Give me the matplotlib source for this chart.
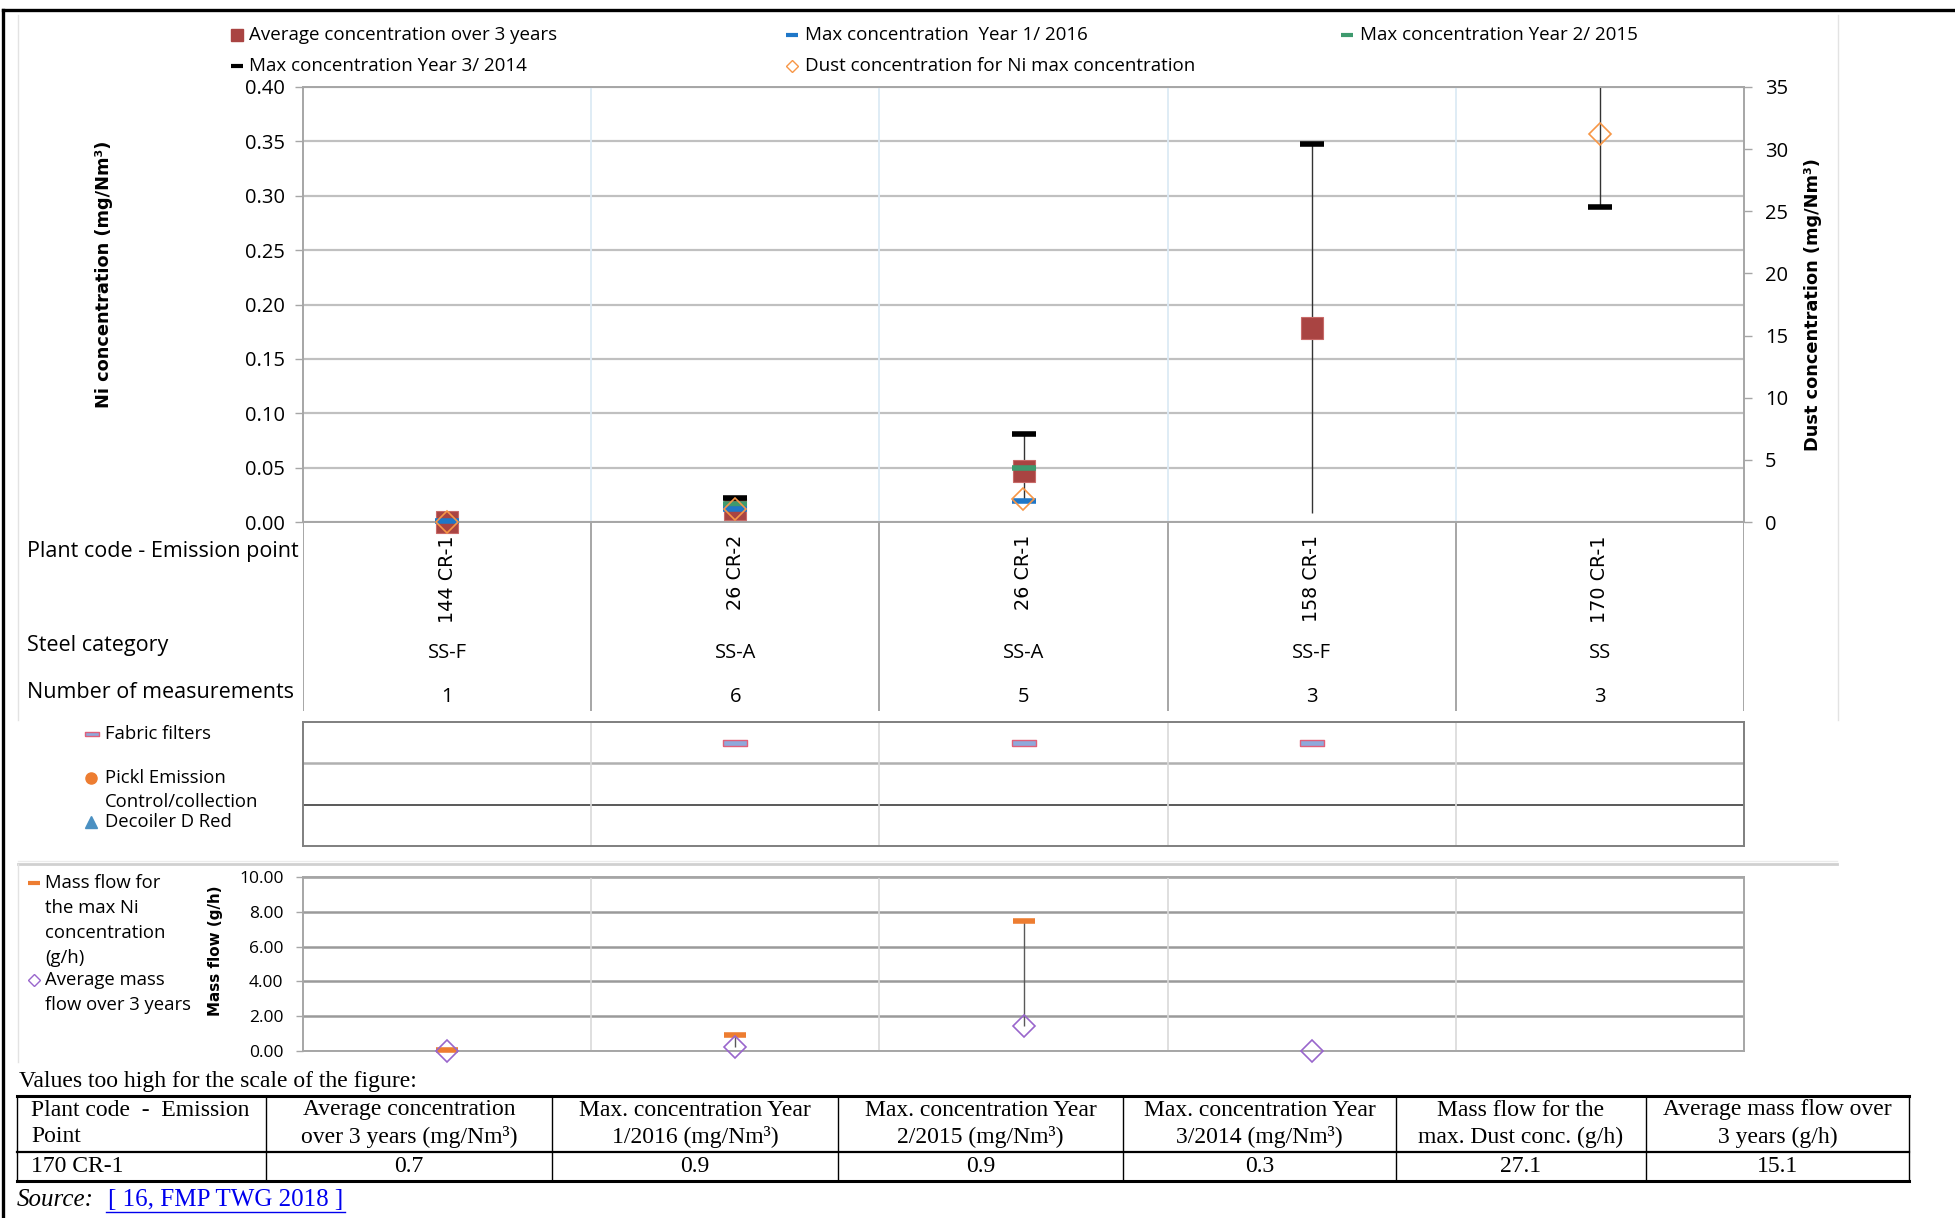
import numpy as np
import matplotlib
matplotlib.use("Agg")
import matplotlib.pyplot as plt
from matplotlib.ticker import FormatStrFormatter

W, H = 1955, 1218
nan = np.nan

# categories
plants = ["144 CR-1", "26 CR-2", "26 CR-1", "158 CR-1", "170 CR-1"]
steel = ["SS-F", "SS-A", "SS-A", "SS-F", "SS"]
n_meas = [1, 6, 5, 3, 3]

# Ni concentration (mg/Nm3)
avg_conc = [0.0, 0.012, 0.047, 0.178, 0.7]
max_2016 = [0.001, 0.012, 0.019, nan, 0.9]
max_2015 = [nan, 0.017, 0.050, nan, 0.9]
max_2014 = [nan, 0.022, 0.081, 0.348, 0.29]
range_low = [0.0, 0.012, 0.019, 0.008, 0.29]
# dust concentration (mg/Nm3)
dust = [0.0, 1.05, 1.85, nan, 31.2]

# techniques
techniques = ["Fabric filters", "Pickl Emission\nControl/collection", "Decoiler D Red"]
fabric = [0, 1, 1, 1, 0]

# mass flow (g/h)
mass_max = [0.05, 0.9, 7.5, nan, 27.1]
mass_avg = [0.0, 0.25, 1.45, 0.0, 15.1]

# table of off-scale values
tbl_head = ["Plant code - Emission\nPoint", "Average concentration\nover 3 years (mg/Nm³)",
            "Max. concentration Year\n1/2016 (mg/Nm³)", "Max. concentration Year\n2/2015 (mg/Nm³)",
            "Max. concentration Year\n3/2014 (mg/Nm³)", "Mass flow for the\nmax. Dust conc. (g/h)",
            "Average mass flow over\n3 years (g/h)"]
tbl_row = ["170 CR-1", "0.7", "0.9", "0.9", "0.3", "27.1", "15.1"]

C_AVG = "#A94442"
C_Y1 = "#1F77C8"
C_Y2 = "#3E9A6E"
C_Y3 = "#000000"
C_DUST = "#F79646"
C_MMAX = "#ED7D31"
C_MAVG = "#9966CC"
SANS = "Open Sans"
BOLD = "DejaVu Sans"
SERIF = "Liberation Serif"
TFS = 17  # table font size


def box(l, t, r, b):
    return [l / W, 1 - b / H, (r - l) / W, (b - t) / H]


def upto(vals, top):
    v = np.array(vals, dtype=float)
    v[v > top] = nan
    return v


x = np.arange(len(plants))
bounds = np.arange(-0.5, len(plants))

fig = plt.figure(figsize=(W / 100, H / 100), dpi=100)

# overlay for frame, labels and table
deco = fig.add_axes([0, 0, 1, 1])
deco.set_xlim(0, W)
deco.set_ylim(H, 0)
deco.axis("off")

# ---------- main chart ----------
ax = fig.add_axes(box(303, 87, 1744, 522))
ax.set_xlim(-0.5, 4.5)
ax.set_ylim(0, 0.40)
ax.set_yticks(np.arange(0, 0.401, 0.05))
ax.yaxis.set_major_formatter(FormatStrFormatter("%.2f"))
ax.yaxis.grid(True, color="#C0C0C0", lw=1.6)
ax.set_axisbelow(True)
ax.vlines(bounds[1:-1], 0, 0.40, color="#DCEAF5", lw=1.3, zorder=1)
ax.set_xticks([])
for s in ["left", "top", "bottom"]:
    ax.spines[s].set_color("#A6A6A6")
    ax.spines[s].set_linewidth(1.4)
ax.spines["right"].set_visible(False)
ax.tick_params(axis="y", length=6, width=1, color="#A6A6A6", pad=7, labelsize=14.5)
for t in ax.get_yticklabels():
    t.set_fontfamily(SANS)

high = np.nanmax(np.vstack([max_2016, max_2015, max_2014]), axis=0)
ax.vlines(x, range_low, high, color="#333333", lw=1.0, zorder=2)
ax.plot(x, upto(avg_conc, 0.4), "s", ms=15.5, mfc=C_AVG, mec="#C86A68", mew=0.8,
        ls="none", clip_on=False, zorder=3)
ax.plot(x, upto(max_2014, 0.4), "_", ms=17, mew=4, color=C_Y3, ls="none", clip_on=False, zorder=4)
ax.plot(x, upto(max_2015, 0.4), "_", ms=17, mew=4, color=C_Y2, ls="none", clip_on=False, zorder=5)
ax.plot(x, upto(max_2016, 0.4), "_", ms=17, mew=4, color=C_Y1, ls="none", clip_on=False, zorder=6)

ax2 = ax.twinx()
ax2.set_ylim(0, 35)
ax2.set_yticks(np.arange(0, 36, 5))
for s in ["left", "top", "bottom"]:
    ax2.spines[s].set_visible(False)
ax2.spines["right"].set_color("#A6A6A6")
ax2.spines["right"].set_linewidth(1.4)
ax2.tick_params(axis="y", length=6, width=1, color="#A6A6A6", pad=9, labelsize=14.5)
for t in ax2.get_yticklabels():
    t.set_fontfamily(SANS)
ax2.plot(x, upto(dust, 35), "D", ms=11, mfc="none", mec=C_DUST, mew=1.2, ls="none",
         clip_on=False, zorder=5)

deco.text(104, 274, "Ni concentration (mg/Nm³)", rotation=90, ha="center", va="center",
          fontsize=12.8, fontweight="bold", fontfamily=BOLD)
deco.text(1813, 305, "Dust concentration (mg/Nm³)", rotation=90, ha="center", va="center",
          fontsize=12.8, fontweight="bold", fontfamily=BOLD)

# legend at top
def leg_mark(px, py, **kw):
    deco.plot([px], [py], ls="none", clip_on=False, **kw)

leg_mark(237, 35, marker="s", ms=8.5, mfc=C_AVG, mec=C_AVG)
leg_mark(792, 35, marker="_", ms=8, mew=3, color=C_Y1)
leg_mark(1347, 35, marker="_", ms=8, mew=3, color=C_Y2)
leg_mark(237, 66, marker="_", ms=8, mew=3, color=C_Y3)
leg_mark(792, 66, marker="D", ms=6, mfc="none", mec=C_DUST, mew=1)
leg_txt = [(249, 35, "Average concentration over 3 years"),
           (805, 35, "Max concentration  Year 1/ 2016"),
           (1360, 35, "Max concentration Year 2/ 2015"),
           (249, 66, "Max concentration Year 3/ 2014"),
           (805, 66, "Dust concentration for Ni max concentration")]
for lx, ly, s in leg_txt:
    deco.text(lx, ly, s, ha="left", va="center", fontsize=13.5, fontfamily=SANS)

# ---------- category strip ----------
axc = fig.add_axes(box(303, 522, 1744, 711))
axc.set_xlim(-0.5, 4.5)
axc.set_ylim(0, 1)
axc.axis("off")
axc.vlines(bounds, 0, 1, color="#A6A6A6", lw=1.4)
for i in x:
    axc.text(i, 0.93, plants[i], rotation=90, ha="center", va="top", fontsize=13.8, fontfamily=BOLD)
    axc.text(i, 0.307, steel[i], ha="center", va="center", fontsize=14.5, fontfamily=SANS)
    axc.text(i, 0.074, str(n_meas[i]), ha="center", va="center", fontsize=14.5, fontfamily=SANS)
deco.text(27, 551, "Plant code - Emission point", ha="left", va="center", fontsize=15.5, fontfamily=SANS)
deco.text(27, 645, "Steel category", ha="left", va="center", fontsize=15.5, fontfamily=SANS)
deco.text(27, 692, "Number of measurements", ha="left", va="center", fontsize=15.5, fontfamily=SANS)

# ---------- techniques panel ----------
axm = fig.add_axes(box(303, 722, 1744, 846))
axm.set_xlim(-0.5, 4.5)
axm.set_ylim(0, 3)
axm.set_xticks([])
axm.set_yticks([])
for s in axm.spines.values():
    s.set_color("#7F7F7F")
    s.set_linewidth(1.4)
axm.axhline(2, color="#B0B0B0", lw=1.8)
axm.axhline(1, color="#595959", lw=1.4)
axm.vlines(bounds[1:-1], 0, 3, color="#D9D9D9", lw=1.2)
bar_marker = [(-1, -0.22), (1, -0.22), (1, 0.22), (-1, 0.22), (-1, -0.22)]
fx = [i for i in x if fabric[i]]
axm.plot(fx, [2.5] * len(fx), ls="none", marker=bar_marker, ms=17, mfc="#8EA9DB", mec="#E0607A", mew=1)

leg_mark(92, 734, marker=bar_marker, ms=10, mfc="#8EA9DB", mec="#E0607A", mew=1)
leg_mark(91, 778, marker="o", ms=8, mfc=C_MMAX, mec=C_MMAX)
leg_mark(91, 822, marker="^", ms=8, mfc="#4A90C2", mec="#4A90C2")
deco.text(105, 734, techniques[0], ha="left", va="center", fontsize=13.3, fontfamily=SANS)
deco.text(105, 778, techniques[1].split("\n")[0], ha="left", va="center", fontsize=13.3, fontfamily=SANS)
deco.text(105, 802, techniques[1].split("\n")[1], ha="left", va="center", fontsize=13.3, fontfamily=SANS)
deco.text(105, 822, techniques[2], ha="left", va="center", fontsize=13.3, fontfamily=SANS)

# ---------- mass flow panel ----------
axf = fig.add_axes(box(303, 877, 1744, 1051))
axf.set_xlim(-0.5, 4.5)
axf.set_ylim(0, 10)
axf.set_yticks(np.arange(0, 10.1, 2))
axf.yaxis.set_major_formatter(FormatStrFormatter("%.2f"))
axf.yaxis.grid(True, color="#9A9A9A", lw=1.8)
axf.set_axisbelow(True)
axf.set_xticks([])
for s in axf.spines.values():
    s.set_color("#A6A6A6")
    s.set_linewidth(1.4)
axf.tick_params(axis="y", length=5, width=1, color="#A6A6A6", pad=9, labelsize=12.5)
for t in axf.get_yticklabels():
    t.set_fontfamily(SANS)
axf.vlines(bounds[1:-1], 0, 10, color="#D9D9D9", lw=1.2, zorder=1)
axf.vlines(x, mass_avg, mass_max, color="#595959", lw=1.0, zorder=2)
axf.plot(x, upto(mass_max, 10), "_", ms=16, mew=4, color=C_MMAX, ls="none", clip_on=False, zorder=3)
axf.plot(x, upto(mass_avg, 10), "D", ms=11, mfc="none", mec=C_MAVG, mew=1.2, ls="none",
         clip_on=False, zorder=4)
deco.text(216, 951, "Mass flow (g/h)", rotation=90, ha="center", va="center",
          fontsize=10.9, fontweight="bold", fontfamily=BOLD)

leg_mark(34, 883, marker="_", ms=8, mew=3, color=C_MMAX)
leg_mark(34, 980, marker="D", ms=6, mfc="none", mec=C_MAVG, mew=1)
for ly, s in zip([883, 908, 933, 958, 980, 1005],
                 ["Mass flow for", "the max Ni", "concentration", "(g/h)", "Average mass", "flow over 3 years"]):
    deco.text(45, ly, s, ha="left", va="center", fontsize=13.3, fontfamily=SANS)

# ---------- frame and chart-area edges ----------
deco.plot([3, W], [10, 10], color="black", lw=2.4)
deco.plot([3, 3], [10, H], color="black", lw=2.4)
deco.plot([18, 18], [15, 720], color="#E3E3E3", lw=1)
deco.plot([1838, 1838], [15, 720], color="#E3E3E3", lw=1)
deco.plot([18, 1837], [861, 861], color="#EBEBEB", lw=1)
deco.plot([18, 1837], [864, 864], color="#D0D0D0", lw=2)
deco.plot([18, 18], [864, 1062], color="#E3E3E3", lw=1)

# ---------- table ----------
deco.text(19, 1082, "Values too high for the scale of the figure:", ha="left", va="center",
          fontsize=TFS, fontfamily=SERIF)
cols = [17, 266, 552, 838, 1123, 1396, 1646, 1909]
deco.plot([cols[0], cols[-1]], [1096, 1096], color="black", lw=2.2)
deco.plot([cols[0], cols[-1]], [1152, 1152], color="black", lw=1.6)
deco.plot([cols[0], cols[-1]], [1181, 1181], color="black", lw=2.2)
for c in cols:
    deco.plot([c, c], [1096, 1181], color="black", lw=1)
for j in range(len(tbl_head)):
    l1, l2 = tbl_head[j].split("\n")
    if j == 0:
        deco.text(cols[0] + 14, 1110, l1.replace(" - ", "  -  "), ha="left", va="center",
                  fontsize=TFS, fontfamily=SERIF)
        deco.text(cols[0] + 14, 1137, l2, ha="left", va="center", fontsize=TFS, fontfamily=SERIF)
        deco.text(cols[0] + 14, 1167, tbl_row[j], ha="left", va="center", fontsize=TFS, fontfamily=SERIF)
    else:
        cx = (cols[j] + cols[j + 1]) / 2
        deco.text(cx, 1110, l1, ha="center", va="center", fontsize=TFS, fontfamily=SERIF)
        deco.text(cx, 1137, l2, ha="center", va="center", fontsize=TFS, fontfamily=SERIF)
        deco.text(cx, 1167, tbl_row[j], ha="center", va="center", fontsize=TFS, fontfamily=SERIF)

deco.text(17, 1200, "Source:", ha="left", va="center", fontsize=TFS + 1, fontfamily=SERIF, style="italic")
link = deco.text(108, 1200, "[ 16, FMP TWG 2018 ]", ha="left", va="center", fontsize=TFS + 1,
                 fontfamily=SERIF, color="#0000EE")
fig.canvas.draw()
bb = link.get_window_extent()
deco.plot([106, 110 + bb.width], [1212, 1212], color="#0000EE", lw=1)

fig.savefig("out.png", dpi=100, facecolor="white")
